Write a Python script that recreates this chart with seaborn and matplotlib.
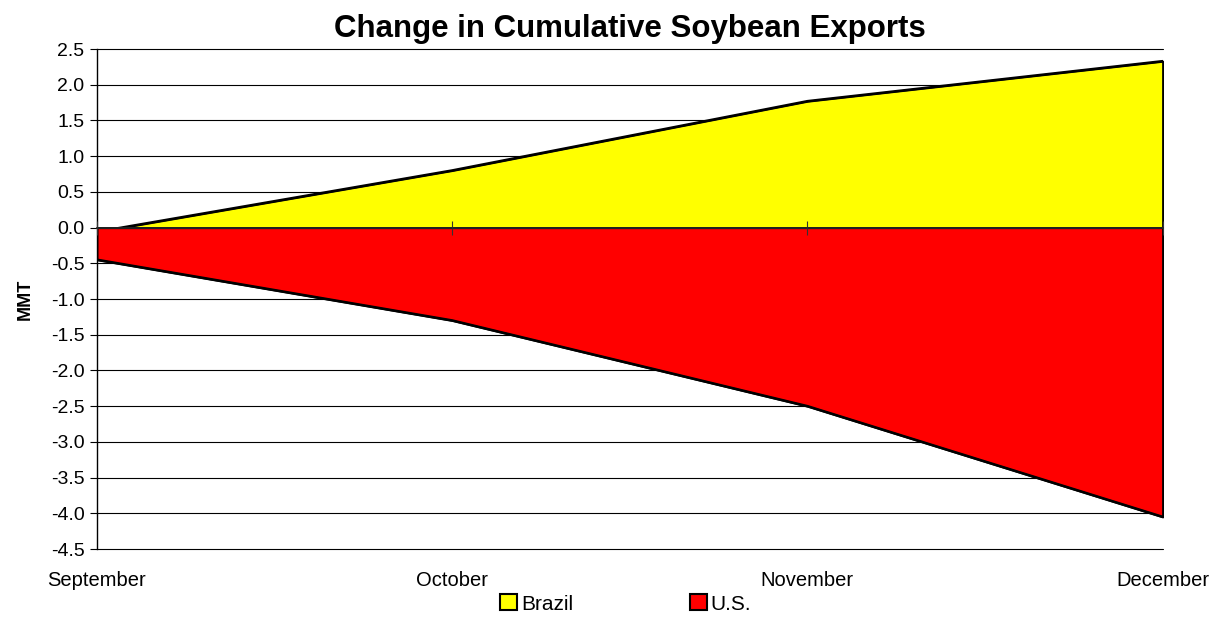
import matplotlib
matplotlib.use("Agg")
import matplotlib.pyplot as plt
import seaborn as sns
import pandas as pd
import numpy as np
from matplotlib.patches import Patch

months = ["September", "October", "November", "December"]
brazil = [-0.06, 0.80, 1.77, 2.33]
us = [-0.45, -1.30, -2.50, -4.05]
yticks = [2.5, 2.0, 1.5, 1.0, 0.5, 0.0, -0.5, -1.0, -1.5, -2.0, -2.5, -3.0, -3.5, -4.0, -4.5]

sns.set_theme(style="white")
plt.rcParams['font.family'] = ['Liberation Sans', 'DejaVu Sans']
plt.rcParams['text.color'] = 'black'
plt.rcParams['xtick.color'] = 'black'
plt.rcParams['ytick.color'] = 'black'
plt.rcParams['axes.labelcolor'] = 'black'

df = pd.DataFrame({"month": months, "x": range(len(months)), "Brazil": brazil, "U.S.": us})

fig = plt.figure(figsize=(12.2, 6.26), dpi=100)
ax = fig.add_axes([0.0795, 0.123, 0.8735, 0.7987])

ax.set_ylim(-4.5, 2.5)
ax.set_xlim(0, len(months) - 1)
for t in yticks:
    ax.axhline(t, color="black", lw=0.8, zorder=0, clip_on=False)

ax.fill_between(df["x"], 0, df["Brazil"], facecolor="#FFFF00", edgecolor="black", lw=1.5, zorder=2)
sns.lineplot(data=df, x="x", y="Brazil", color="black", lw=1.8, ax=ax, zorder=3)
ax.fill_between(df["x"], 0, df["U.S."], facecolor="#FF0000", edgecolor="black", lw=1.5, zorder=4)
sns.lineplot(data=df, x="x", y="U.S.", color="black", lw=1.8, ax=ax, zorder=5)

# zero axis with crossing ticks
sec = ax.secondary_xaxis(4.5 / 7)
sec.set_xticks(df["x"])
sec.set_xticklabels([])
sec.tick_params(direction="inout", length=10, width=0.8, color="#333333")
sec.spines["bottom"].set_linewidth(2)
sec.spines["bottom"].set_color("black")
sec.set_zorder(6)

ax.set_xticks(df["x"])
ax.set_xticklabels(months, fontsize=14.5)
ax.tick_params(axis="x", length=0, pad=16)
ax.set_yticks(yticks)
ax.set_yticklabels([f"{t:.1f}" for t in yticks], fontsize=14)
ax.tick_params(axis="y", left=True, length=5, width=0.8, color="black", pad=4)
for s in ["top", "right", "bottom"]:
    ax.spines[s].set_visible(False)
ax.spines["left"].set_color("black")
ax.spines["left"].set_linewidth(1)
ax.set_xlabel("")
ax.set_ylabel("MMT", fontsize=13, fontweight="bold", labelpad=12)
ax.set_title("Change in Cumulative Soybean Exports", fontsize=22.5, fontweight="bold", pad=9)

handles = [Patch(facecolor="#FFFF00", edgecolor="black", lw=1.5, label="Brazil"),
           Patch(facecolor="#FF0000", edgecolor="black", lw=1.5, label="U.S.")]
fig.legend(handles=handles, loc="center", bbox_to_anchor=(0.513, 0.035), ncol=2, frameon=False,
           fontsize=15, handlelength=0.8, handleheight=0.8, handletextpad=0.2, columnspacing=5.6)

fig.savefig("out.png", dpi=100)
